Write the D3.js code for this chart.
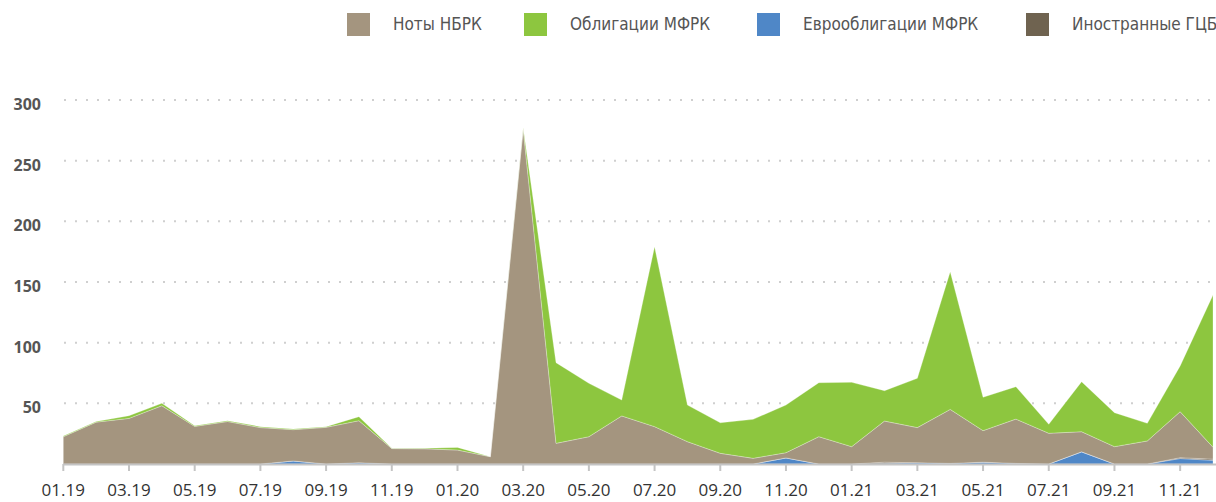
<html lang="ru">
<head>
    <meta charset="UTF-8">
    <script src="https://d3js.org/d3.v7.min.js"></script>
    <style>
        body { margin: 0; background: #fff; }
    </style>
</head>
<body>
    <script type="text/javascript">

    let months = ["01.19","02.19","03.19","04.19","05.19","06.19","07.19","08.19","09.19","10.19","11.19","12.19",
                  "01.20","02.20","03.20","04.20","05.20","06.20","07.20","08.20","09.20","10.20","11.20","12.20",
                  "01.21","02.21","03.21","04.21","05.21","06.21","07.21","08.21","09.21","10.21","11.21","12.21"];

    // Еврооблигации МФРК
    let euroBonds = [0,0,0,0,0,0,0,2.5,0,1,0,0, 0,0,0,0,0,0,0,0,0,0,5,0, 0,0.5,1,0.5,1.5,0.5,0,10,0,0,4.5,3];
    // Иностранные ГЦБ
    let foreignGov = [0,0,0,0,0,0,0,0,0,0,0,0, 0,0,0,0,0,0,0,0,0,0,0,0, 0,1,0,0,0,0,0,0,0,0,0.7,1];
    // Ноты НБРК
    let notes = [22.5,34.5,37.6,48,31,35,30,25.8,30.2,34.7,12.7,12.5, 11.5,6,276,17,22.5,39.6,30.8,18.4,8.8,4.7,4.3,22.5,
                 14.3,33.9,29,44.5,26,36.5,25.3,16.6,14.3,19,37.9,9.8];
    // Облигации МФРК
    let bonds = [0.6,0.5,2.2,2,0.6,0.7,0.8,0.5,0.6,3.3,0.2,0.4, 2.2,0,1,66.5,44,13.1,148.2,30.2,25.2,32.1,39.3,44.5,
                 53,25,40.6,113.5,27.5,26.7,7.4,41.2,28,14.5,37.7,125.5];

    let seriesNames = ["Ноты НБРК", "Облигации МФРК", "Еврооблигации МФРК", "Иностранные ГЦБ"];
    let seriesColors = ["#a4957f", "#8dc63f", "#4f87c7", "#6f6350"];
    let yTicks = [50, 100, 150, 200, 250, 300];

    let width = 1216, height = 502;

    let svg = d3.select("body").append("svg")
        .attr("width", width)
        .attr("height", height);

    let rows = months.map(function(m, i) {
        return { month: m, euro: euroBonds[i], foreign: foreignGov[i], notes: notes[i], bonds: bonds[i] };
    });

    let x = d3.scalePoint().domain(months).range([63.3, 1213]);
    let y = d3.scaleLinear().domain([0, 300]).range([464, 100]);

    // grid
    svg.append("g").selectAll("line")
        .data(yTicks)
        .join("line")
        .attr("x1", 64).attr("x2", width)
        .attr("y1", d => y(d)).attr("y2", d => y(d))
        .attr("stroke", "#cfcfcf")
        .attr("stroke-width", 2)
        .attr("stroke-dasharray", "2,9");

    svg.append("g").selectAll("text")
        .data(yTicks)
        .join("text")
        .attr("x", 41)
        .attr("y", d => y(d) + 10)
        .attr("text-anchor", "end")
        .attr("font-family", "'Open Sans', sans-serif")
        .attr("font-weight", "bold")
        .attr("font-size", 16)
        .attr("fill", "#555")
        .text(d => d);

    // stacked areas
    let keys = ["euro", "foreign", "notes", "bonds"];
    let keyColor = { euro: seriesColors[2], foreign: seriesColors[3], notes: seriesColors[0], bonds: seriesColors[1] };
    let stack = d3.stack().keys(keys);
    let layers = stack(rows);

    let area = d3.area()
        .x(d => x(d.data.month))
        .y0(d => y(d[0]))
        .y1(d => y(d[1]));

    svg.append("g").selectAll("path")
        .data(layers)
        .join("path")
        .attr("d", area)
        .attr("fill", d => keyColor[d.key])
        .attr("stroke", "rgba(255,255,255,0.35)")
        .attr("stroke-width", 0.8);

    // x axis
    svg.append("line")
        .attr("x1", 63).attr("x2", width)
        .attr("y1", 464.5).attr("y2", 464.5)
        .attr("stroke", "#c4c4c4")
        .attr("stroke-width", 2);

    let labelled = months.filter((m, i) => i % 2 === 0);

    svg.append("g").selectAll("line")
        .data(labelled)
        .join("line")
        .attr("x1", d => x(d)).attr("x2", d => x(d))
        .attr("y1", 464).attr("y2", 471)
        .attr("stroke", "#c4c4c4")
        .attr("stroke-width", 2);

    svg.append("g").selectAll("text")
        .data(labelled)
        .join("text")
        .attr("x", d => x(d))
        .attr("y", 496)
        .attr("text-anchor", "middle")
        .attr("font-family", "'Open Sans', sans-serif")
        .attr("font-size", 17)
        .attr("fill", "#333")
        .text(d => d);

    // legend
    let legendX = [347, 524, 757, 1026];
    let legend = svg.append("g").selectAll("g")
        .data(seriesNames)
        .join("g")
        .attr("transform", (d, i) => `translate(${legendX[i]},13)`);

    legend.append("rect")
        .attr("width", 23).attr("height", 23)
        .attr("fill", (d, i) => seriesColors[i]);

    legend.append("text")
        .attr("x", 46)
        .attr("y", 17)
        .attr("font-family", "'DejaVu Sans Condensed', sans-serif")
        .attr("font-stretch", "condensed")
        .attr("font-size", 17)
        .attr("fill", "#555")
        .text(d => d);

    </script>
</body>
</html>
